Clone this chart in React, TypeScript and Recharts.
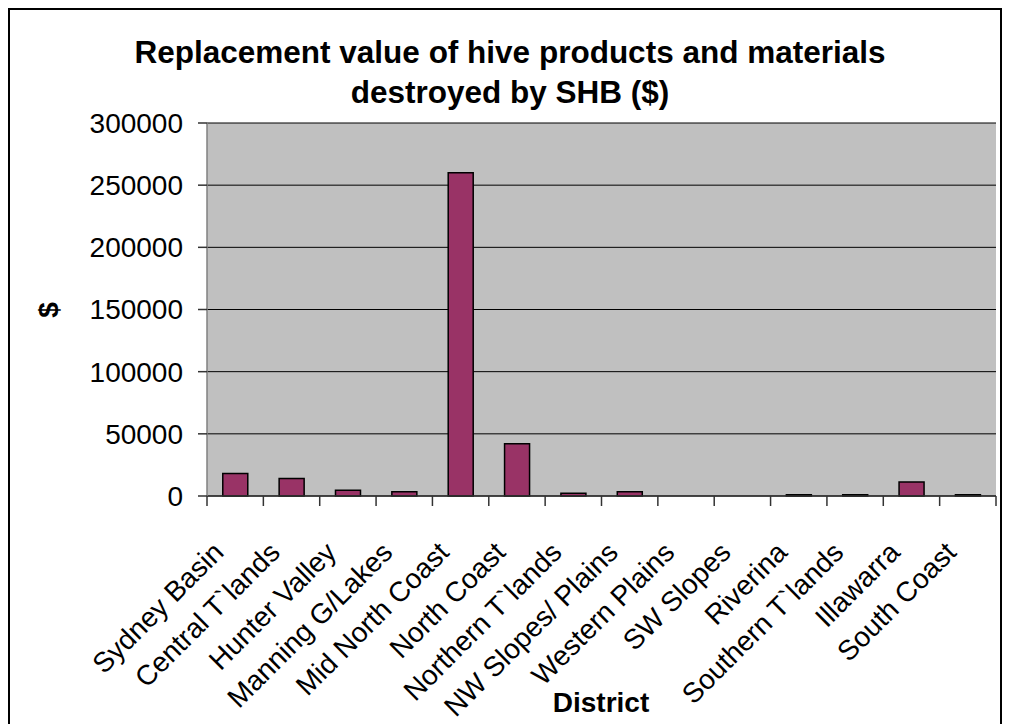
import React from "react";
import { BarChart, Bar, XAxis, YAxis, CartesianGrid } from "recharts";

// Districts and replacement value ($) of hive products / materials lost to SHB
const districts = [
  "Sydney Basin",
  "Central T`lands",
  "Hunter Valley",
  "Manning G/Lakes",
  "Mid North Coast",
  "North Coast",
  "Northern T`lands",
  "NW Slopes/ Plains",
  "Western Plains",
  "SW Slopes",
  "Riverina",
  "Southern T`lands",
  "Illawarra",
  "South Coast",
];
const values = [18000, 14000, 4600, 3500, 260000, 42000, 2200, 3500, 0, 0, 1000, 1000, 11300, 1000];
const yTicks = [0, 50000, 100000, 150000, 200000, 250000, 300000];

const data = districts.map((name, i) => ({ name, value: values[i] }));

const FONT = "'Liberation Sans', Arial, sans-serif";
const TICK_LEN = 10;

// rotated district name, plus tick marks on the category boundaries
const DistrictTick = (props: any) => {
  const { x, y, payload, index } = props;
  const half = payload && payload.offset ? payload.offset : 789 / 28;
  const top = y - TICK_LEN;
  const last = index === districts.length - 1;
  return (
    <g>
      <line x1={x - half} x2={x - half} y1={top} y2={y} stroke="#333" strokeWidth={1.5} />
      {last && <line x1={x + half} x2={x + half} y1={top} y2={y} stroke="#333" strokeWidth={1.5} />}
      <text
        transform={`translate(${x - 10},${y + 48}) rotate(-45)`}
        textAnchor="end"
        fontSize={28}
        fontFamily={FONT}
        fill="#000"
      >
        {payload.value}
      </text>
    </g>
  );
};

export default function App() {
  return (
    <div
      style={{
        position: "relative",
        width: 990,
        height: 716,
        border: "2px solid #000",
        background: "#fff",
        fontFamily: FONT,
      }}
    >
      <div
        style={{
          position: "absolute",
          left: 0,
          top: 22,
          width: 1000,
          textAlign: "center",
          fontSize: 31.5,
          fontWeight: "bold",
          lineHeight: "40px",
        }}
      >
        Replacement value of hive products and materials
        <br />
        destroyed by SHB ($)
      </div>
      <div
        style={{
          position: "absolute",
          left: 25,
          top: 285,
          width: 28,
          height: 30,
          fontSize: 28,
          fontWeight: "bold",
          lineHeight: "30px",
          textAlign: "center",
          transform: "rotate(-90deg)",
        }}
      >
        $
      </div>
      <div
        style={{
          position: "absolute",
          left: 491,
          top: 678,
          width: 200,
          textAlign: "center",
          fontSize: 28,
          fontWeight: "bold",
          lineHeight: "30px",
        }}
      >
        District
      </div>
      <BarChart
        width={990}
        height={716}
        data={data}
        margin={{ top: 113, right: 4, bottom: 0, left: 0 }}
        barCategoryGap="28%"
      >
        <CartesianGrid
          vertical={false}
          stroke="#000"
          strokeWidth={1}
          fill="#C0C0C0"
          fillOpacity={1}
        />
        <XAxis
          dataKey="name"
          interval={0}
          height={230}
          tickSize={TICK_LEN}
          tickMargin={0}
          tick={DistrictTick}
          axisLine={{ stroke: "#333", strokeWidth: 1.5 }}
          tickLine={false}
        />
        <XAxis
          xAxisId="top"
          orientation="top"
          dataKey="name"
          height={0}
          tick={false}
          tickLine={false}
          axisLine={{ stroke: "#808080", strokeWidth: 1.5 }}
        />
        <YAxis
          domain={[0, 300000]}
          ticks={yTicks}
          width={197}
          tickSize={9}
          tickMargin={15}
          interval={0}
          tick={{ fontSize: 28, fill: "#000", fontFamily: FONT }}
          axisLine={{ stroke: "#808080", strokeWidth: 1.5 }}
          tickLine={{ stroke: "#333", strokeWidth: 1.5 }}
        />
        <YAxis
          yAxisId="right"
          orientation="right"
          domain={[0, 300000]}
          width={0}
          tick={false}
          tickLine={false}
          axisLine={{ stroke: "#808080", strokeWidth: 1.5 }}
        />
        <Bar
          dataKey="value"
          fill="#993366"
          stroke="#000"
          strokeWidth={1.5}
          isAnimationActive={false}
        />
      </BarChart>
    </div>
  );
}
